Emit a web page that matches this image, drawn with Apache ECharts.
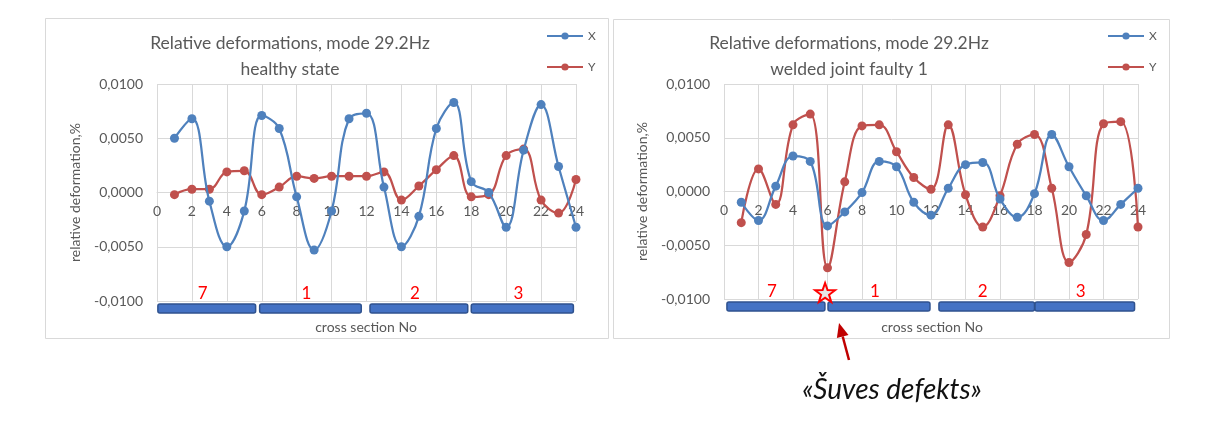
<!DOCTYPE html>
<html>
<head>
<meta charset="utf-8">
<script src="https://cdn.jsdelivr.net/npm/echarts@6/dist/echarts.min.js"></script>
<style>
html,body{margin:0;padding:0;background:#fff;}
#chart{width:1225px;height:427px;}
</style>
</head>
<body>
<div id="chart"></div>
<script>
// ---- data ----
const sectionNo = [1,2,3,4,5,6,7,8,9,10,11,12,13,14,15,16,17,18,19,20,21,22,23,24];
const healthyX = [0.0050, 0.0068, -0.0008, -0.0050, -0.0017, 0.0071, 0.0059, -0.0004, -0.0053, -0.0017, 0.0068, 0.0073, 0.0005, -0.0050, -0.0022, 0.0059, 0.0083, 0.0010, 0.0000, -0.0032, 0.0039, 0.0081, 0.0024, -0.0032];
const healthyY = [-0.0002, 0.0003, 0.0003, 0.0019, 0.0020, -0.0002, 0.0005, 0.0015, 0.0013, 0.0015, 0.0015, 0.0015, 0.0019, -0.0007, 0.0006, 0.0021, 0.0034, -0.0004, -0.0002, 0.0034, 0.0040, -0.0007, -0.0019, 0.0012];
const faultyX = [-0.0010, -0.0027, 0.0005, 0.0033, 0.0028, -0.0032, -0.0019, -0.0001, 0.0028, 0.0023, -0.0010, -0.0022, 0.0003, 0.0025, 0.0027, -0.0007, -0.0024, -0.0002, 0.0053, 0.0023, -0.0004, -0.0027, -0.0012, 0.0003];
const faultyY = [-0.0029, 0.0021, -0.0012, 0.0062, 0.0072, -0.0071, 0.0009, 0.0061, 0.0062, 0.0037, 0.0013, 0.0002, 0.0062, -0.0003, -0.0033, -0.0004, 0.0044, 0.0053, 0.0003, -0.0066, -0.0040, 0.0063, 0.0065, -0.0033];

const sectionLabels = ['7', '1', '2', '3'];
const sectionStartHealthy = [0.05, 5.88, 12.2, 18.0];
const sectionEndHealthy = [5.65, 11.7, 17.8, 23.85];
const sectionStartFaulty = [0.17, 6.03, 12.46, 18.03];
const sectionEndFaulty = [5.85, 11.94, 18.0, 23.8];
const defectPosition = [5.86];

const titleMain = 'Relative deformations, mode 29.2Hz';
const titleSubs = ['healthy state', 'welded joint faulty 1'];
const seriesNames = ['X', 'Y'];
const yAxisName = 'relative deformation,%';
const xAxisName = 'cross section No';
const annotationText = '«Šuves defekts»';

// ---- helpers ----
const FONT = 'Lato, "Open Sans", sans-serif';
const GRAY = '#595959';
const GRID = '#D9D9D9';
const BLUE = '#4F81BD';
const RED = '#C0504D';

const GRID_H = [217, 215];

function pairs(xs, ys) { return xs.map((x, i) => [x, ys[i]]); }
function sections(starts, ends) { return starts.map((s, i) => [s, ends[i]]); }

function yLabel(v) {
  return v.toFixed(4).replace('.', ',');
}

function makeXAxis(gridIndex) {
  return {
    type: 'value', gridIndex, min: 0, max: 24, interval: 2,
    position: 'bottom', offset: -GRID_H[gridIndex] / 2,
    axisLine: { onZero: false, show: true, lineStyle: { color: GRID, width: 1 } },
    axisTick: { show: false },
    axisLabel: { color: GRAY, fontSize: 14, fontFamily: FONT, margin: 12 },
    splitLine: { show: true, lineStyle: { color: GRID, width: 1 } }
  };
}
function makeYAxis(gridIndex) {
  return {
    type: 'value', gridIndex, min: -0.01, max: 0.01, interval: 0.005,
    name: yAxisName, nameLocation: 'middle', nameRotate: 90, nameGap: 75,
    nameTextStyle: { color: GRAY, fontSize: 14, fontFamily: FONT },
    axisLine: { show: false, onZero: false }, axisTick: { show: false },
    axisLabel: { color: GRAY, fontSize: 14, fontFamily: FONT, margin: 14, formatter: yLabel },
    splitLine: { show: true, lineStyle: { color: GRID, width: 1 } }
  };
}
function lineSeries(name, data, color, idx) {
  return {
    name, type: 'line', xAxisIndex: idx, yAxisIndex: idx, data,
    smooth: 0.4, symbol: 'circle', symbolSize: 9, showSymbol: true,
    lineStyle: { color, width: 2.25 }, itemStyle: { color },
    z: color === RED ? 3 : 4
  };
}
function sectionSeries(idx, data) {
  return {
    type: 'custom', xAxisIndex: idx, yAxisIndex: idx, data, clip: false, silent: true,
    encode: { x: [0, 1] }, z: 5,
    renderItem: function (params, api) {
      const s = api.coord([api.value(0), -0.01]);
      const e = api.coord([api.value(1), -0.01]);
      return {
        type: 'group',
        children: [
          { type: 'rect', shape: { x: s[0], y: s[1] + 3, width: e[0] - s[0], height: 9, r: 2 },
            style: { fill: '#4472C4', stroke: '#2F528F', lineWidth: 1.5 } },
          { type: 'text', style: { text: sectionLabels[params.dataIndex], x: (s[0] + e[0]) / 2 - 4, y: s[1] - 7,
            fill: '#FF0000', fontSize: 17, fontFamily: FONT, align: 'center', verticalAlign: 'middle' } }
        ]
      };
    }
  };
}

const chart = echarts.init(document.getElementById('chart'), null, { renderer: 'canvas' });

const option = {
  animation: false,
  backgroundColor: '#fff',
  textStyle: { fontFamily: FONT },
  title: [
    { text: titleMain + '\n' + titleSubs[0], left: 285, top: 25, textAlign: 'center',
      textStyle: { fontSize: 17.5, fontWeight: 'normal', color: GRAY, lineHeight: 26, fontFamily: FONT } },
    { text: titleMain + '\n' + titleSubs[1], left: 844, top: 25, textAlign: 'center',
      textStyle: { fontSize: 17.5, fontWeight: 'normal', color: GRAY, lineHeight: 26, fontFamily: FONT } }
  ],
  legend: [
    { data: seriesNames, orient: 'vertical', left: 541, top: 25, itemWidth: 36, itemHeight: 9, itemGap: 19,
      textStyle: { color: GRAY, fontSize: 12, fontFamily: FONT }, selectedMode: false },
    { data: seriesNames, orient: 'vertical', left: 1102, top: 25, itemWidth: 36, itemHeight: 9, itemGap: 19,
      textStyle: { color: GRAY, fontSize: 12, fontFamily: FONT }, selectedMode: false }
  ],
  grid: [
    { left: 157, top: 84, width: 419, height: GRID_H[0] },
    { left: 724, top: 84, width: 414, height: GRID_H[1] }
  ],
  xAxis: [makeXAxis(0), makeXAxis(1)],
  yAxis: [makeYAxis(0), makeYAxis(1)],
  series: [
    lineSeries(seriesNames[0], pairs(sectionNo, healthyX), BLUE, 0),
    lineSeries(seriesNames[1], pairs(sectionNo, healthyY), RED, 0),
    lineSeries(seriesNames[0], pairs(sectionNo, faultyX), BLUE, 1),
    lineSeries(seriesNames[1], pairs(sectionNo, faultyY), RED, 1),
    sectionSeries(0, sections(sectionStartHealthy, sectionEndHealthy)),
    sectionSeries(1, sections(sectionStartFaulty, sectionEndFaulty)),
    {
      type: 'custom', xAxisIndex: 1, yAxisIndex: 1, data: defectPosition.map(v => [v]), clip: false, silent: true,
      encode: { x: 0 }, z: 6,
      renderItem: function (params, api) {
        const p = api.coord([api.value(0), -0.01]);
        return {
          type: 'path',
          shape: { pathData: 'M0,-10 L2.35,-3.24 L9.51,-3.09 L3.8,1.24 L5.88,8.09 L0,4 L-5.88,8.09 L-3.8,1.24 L-9.51,-3.09 L-2.35,-3.24 Z',
                   x: p[0] - 10, y: p[1] - 16, width: 20, height: 19 },
          style: { fill: '#E6E6E6', stroke: '#FF0000', lineWidth: 2 }
        };
      }
    }
  ],
  graphic: [
    { type: 'rect', shape: { x: 45.5, y: 18.5, width: 563, height: 320 }, style: { fill: null, stroke: GRID, lineWidth: 1 }, z: -10 },
    { type: 'rect', shape: { x: 613.5, y: 19.5, width: 556, height: 319 }, style: { fill: null, stroke: GRID, lineWidth: 1 }, z: -10 },
    { type: 'text', x: 366, y: 327, style: { text: xAxisName, fill: GRAY, fontSize: 14, fontFamily: FONT, align: 'center', verticalAlign: 'middle' } },
    { type: 'text', x: 932, y: 327, style: { text: xAxisName, fill: GRAY, fontSize: 14, fontFamily: FONT, align: 'center', verticalAlign: 'middle' } },
    { type: 'line', shape: { x1: 849, y1: 360, x2: 842.7, y2: 336.5 }, style: { stroke: '#C00000', lineWidth: 2.5 } },
    { type: 'polygon', shape: { points: [[839, 323], [848.5, 334.9], [836.9, 338.1]] }, style: { fill: '#C00000' } },
    { type: 'text', x: 892, y: 390, style: { text: annotationText, fill: '#111', fontSize: 28, fontStyle: 'italic', fontFamily: FONT, align: 'center', verticalAlign: 'middle' } }
  ]
};
chart.setOption(option);
</script>
</body>
</html>
